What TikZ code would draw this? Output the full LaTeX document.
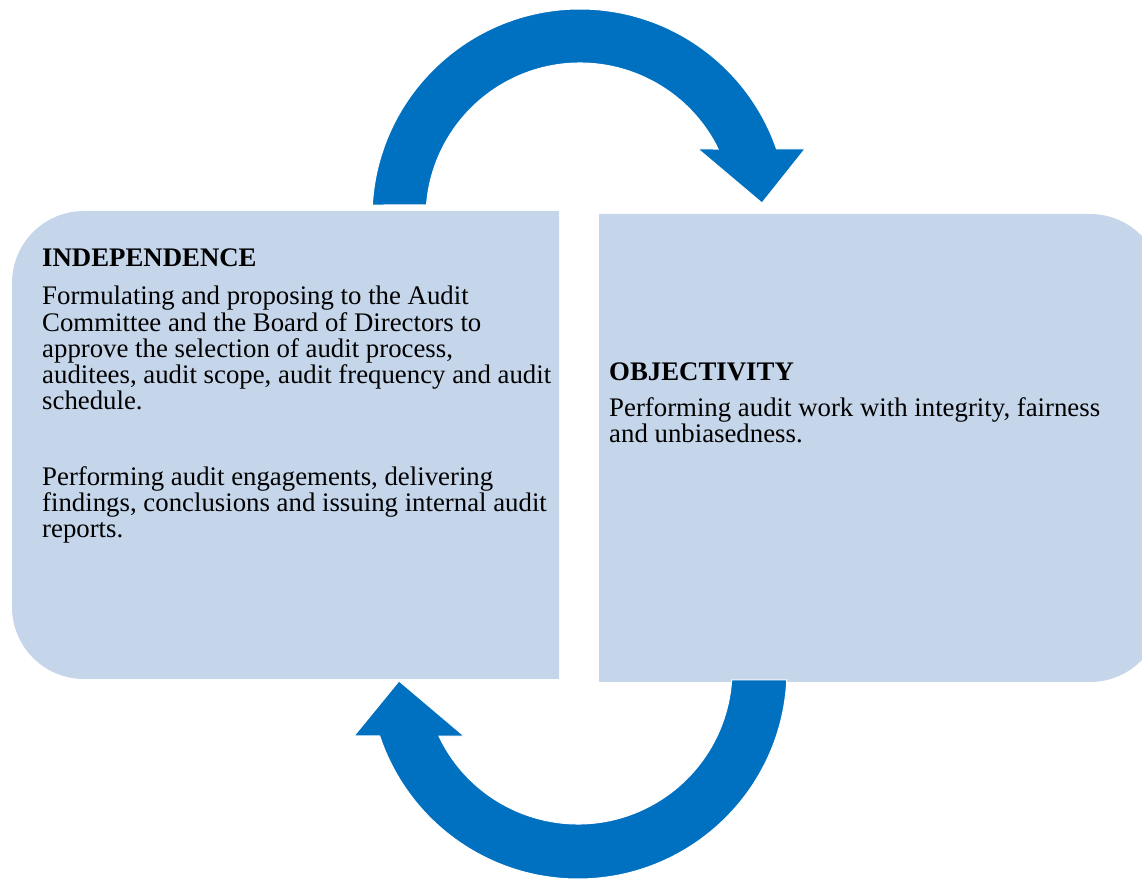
\documentclass[tikz,border=0pt]{standalone}
\usepackage{fontspec}
\setmainfont{Liberation Serif}
\usetikzlibrary{calc}
\definecolor{boxblue}{HTML}{C5D5EA}
\definecolor{arrowblue}{HTML}{0070C0}
\AtBeginDocument{\lineskiplimit=-100pt \lineskip=0pt }
\tikzset{
  panel/.style={fill=boxblue},
  cyclearrow/.style={fill=arrowblue, draw=white, line width=1pt},
  txt/.style={inner sep=0pt, align=left, anchor=base west, font=\fontsize{26.8}{26.3}\selectfont},
  head/.style={txt, font=\fontsize{26.8}{26.3}\selectfont\bfseries},
}
\begin{document}
\begin{tikzpicture}[x=1pt,y=1pt]
\useasboundingbox (0,0) rectangle (1142,878);
\clip (0,0) rectangle (1142,878);
% boxes
\fill[panel] (559,667) -- (84,667) arc[start angle=90,end angle=180,radius=72] -- (12,271) arc[start angle=180,end angle=270,radius=72] -- (559,199) -- cycle;
\fill[panel] (599,664) -- (1090,664) arc[start angle=90,end angle=0,radius=72] -- (1162,268) arc[start angle=0,end angle=-90,radius=72] -- (599,196) -- cycle;
% top arrow
\coordinate (tc) at (580,661);
\coordinate (tip1) at (762,675);
\filldraw[cyclearrow] ($(tc)+(176.7:208)$) arc[start angle=176.7,end angle=19.1,radius=208] -- (805,729) -- (tip1) -- (698,729) -- ($(tc)+(26.2:154)$) arc[start angle=26.2,end angle=175.5,radius=154] -- cycle;
% bottom arrow
\coordinate (bc) at (578,208);
\coordinate (tip2) at (399,197);
\filldraw[cyclearrow] ($(bc)+(-2.7:209)$) arc[start angle=-2.7,end angle=-161.6,radius=209] -- (354,142) -- (tip2) -- (464,142) -- ($(bc)+(-154.6:154)$) arc[start angle=-154.6,end angle=-3.7,radius=154] -- cycle;
% texts (base anchor = baseline of last line)
\node[head] (h1) at (42,611) {INDEPENDENCE};
\node[txt] (p1) at (42,468) {Formulating and proposing to the Audit\\Committee and the Board of Directors to\\approve the selection of audit process,\\auditees, audit scope, audit frequency and audit\\schedule.};
\node[txt] (p2) at (42,340) {Performing audit engagements, delivering\\findings, conclusions and issuing internal audit\\reports.};
\node[head] (h2) at (609,497) {OBJECTIVITY};
\node[txt] (p3) at (609,435) {Performing audit work with integrity, fairness\\and unbiasedness.};
\end{tikzpicture}
\end{document}
